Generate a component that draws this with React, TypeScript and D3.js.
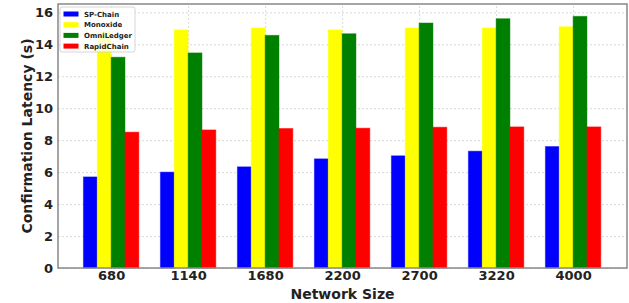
import { useEffect, useRef } from 'react';
import * as d3 from 'd3';

const categories = ['680', '1140', '1680', '2200', '2700', '3220', '4000'];
const seriesNames = ['SP-Chain', 'Monoxide', 'OmniLedger', 'RapidChain'];
const seriesColors = ['#0000ff', '#ffff00', '#008000', '#ff0000'];
const spChain = [5.7, 6.0, 6.33, 6.83, 7.02, 7.31, 7.6];
const monoxide = [14.8, 14.9, 15.02, 14.9, 15.02, 15.02, 15.1];
const omniLedger = [13.19, 13.46, 14.56, 14.66, 15.33, 15.6, 15.75];
const rapidChain = [8.5, 8.64, 8.73, 8.75, 8.81, 8.83, 8.83];
const yTicks = [0, 2, 4, 6, 8, 10, 12, 14, 16];

const allSeries = [spChain, monoxide, omniLedger, rapidChain];

export default function App() {
  const svgRef = useRef<SVGSVGElement>(null);

  useEffect(() => {
    if (!svgRef.current) return;
    const W = 629;
    const H = 303;
    const M = { top: 4, right: 2, bottom: 35, left: 58 };
    const font = '"DejaVu Sans", sans-serif';

    const svg = d3.select(svgRef.current).attr('width', W).attr('height', H);
    svg.selectAll('*').remove();

    const x = d3.scaleLinear().domain([-0.69, categories.length - 1 + 0.7]).range([M.left, W - M.right]);
    const y = d3.scaleLinear().domain([0, 16.52]).range([H - M.bottom, M.top]);
    const barW = 0.18;

    // Grid
    svg.append('g').attr('transform', `translate(0,${H - M.bottom})`)
      .call(d3.axisBottom(x).tickValues(d3.range(categories.length)).tickSize(-(H - M.top - M.bottom)).tickFormat(() => ''))
      .call(g => g.select('.domain').remove())
      .selectAll('line').style('stroke', '#d0d0d0').style('stroke-dasharray', '2,2').style('stroke-width', 0.8);
    svg.append('g').attr('transform', `translate(${M.left},0)`)
      .call(d3.axisLeft(y).tickValues(yTicks).tickSize(-(W - M.left - M.right)).tickFormat(() => ''))
      .call(g => g.select('.domain').remove())
      .selectAll('line').style('stroke', '#d0d0d0').style('stroke-dasharray', '2,2').style('stroke-width', 0.8);

    // Bars
    allSeries.forEach((vals, s) => {
      const off = (s - 1.5) * barW;
      svg.append('g').selectAll('rect').data(vals).join('rect')
        .attr('x', (_, i) => x(i + off - barW / 2))
        .attr('width', x(barW) - x(0))
        .attr('y', d => y(d))
        .attr('height', d => y(0) - y(d))
        .style('fill', seriesColors[s])
        .style('stroke', seriesColors[s])
        .style('stroke-opacity', 0.45)
        .style('stroke-width', 1);
    });

    // Frame
    svg.append('rect')
      .attr('x', M.left).attr('y', M.top)
      .attr('width', W - M.left - M.right).attr('height', H - M.top - M.bottom)
      .style('fill', 'none').style('stroke', '#888').style('stroke-width', 1.5);

    // Tick labels
    svg.append('g').attr('transform', `translate(${M.left},0)`)
      .call(d3.axisLeft(y).tickValues(yTicks).tickSize(0).tickPadding(5).tickFormat(d3.format('d')))
      .call(g => g.select('.domain').remove())
      .selectAll('text').style('fill', '#222').style('font-size', '13px').style('font-weight', 'bold').style('font-family', font);
    svg.append('g').attr('transform', `translate(0,${H - M.bottom})`)
      .call(d3.axisBottom(x).tickValues(d3.range(categories.length)).tickSize(0).tickPadding(3).tickFormat((d) => categories[+d]))
      .call(g => g.select('.domain').remove())
      .selectAll('text').style('fill', '#222').style('font-size', '13px').style('font-weight', 'bold').style('font-family', font);

    // Axis titles
    svg.append('text').attr('x', (M.left + W - M.right) / 2).attr('y', H - 4)
      .attr('text-anchor', 'middle').style('fill', '#222').style('font-size', '14px').style('font-weight', 'bold')
      .style('font-family', font).text('Network Size');
    svg.append('text')
      .attr('transform', `translate(32,${(M.top + H - M.bottom) / 2}) rotate(-90)`)
      .attr('text-anchor', 'middle').style('fill', '#222').style('font-size', '14px').style('font-weight', 'bold')
      .style('font-family', font).text('Confirmation Latency (s)');

    // Legend
    const lg = svg.append('g').attr('transform', 'translate(60,7)');
    lg.append('rect').attr('width', 75).attr('height', 45).attr('rx', 2)
      .style('fill', 'white').style('fill-opacity', 0.8).style('stroke', '#ccc').style('stroke-width', 0.8);
    seriesNames.forEach((name, i) => {
      const cy = 7 + i * 10.7;
      lg.append('rect').attr('x', 3.5).attr('y', cy - 2.5).attr('width', 15).attr('height', 5)
        .style('fill', seriesColors[i]);
      lg.append('text').attr('x', 24).attr('y', cy + 2.5)
        .style('fill', '#222').style('font-size', '7px').style('font-weight', 'bold').style('font-family', font)
        .text(name);
    });
  }, []);

  return (
    <div style={{ position: 'absolute', left: 0, top: 0 }}>
      <svg ref={svgRef} style={{ display: 'block' }} />
    </div>
  );
}
